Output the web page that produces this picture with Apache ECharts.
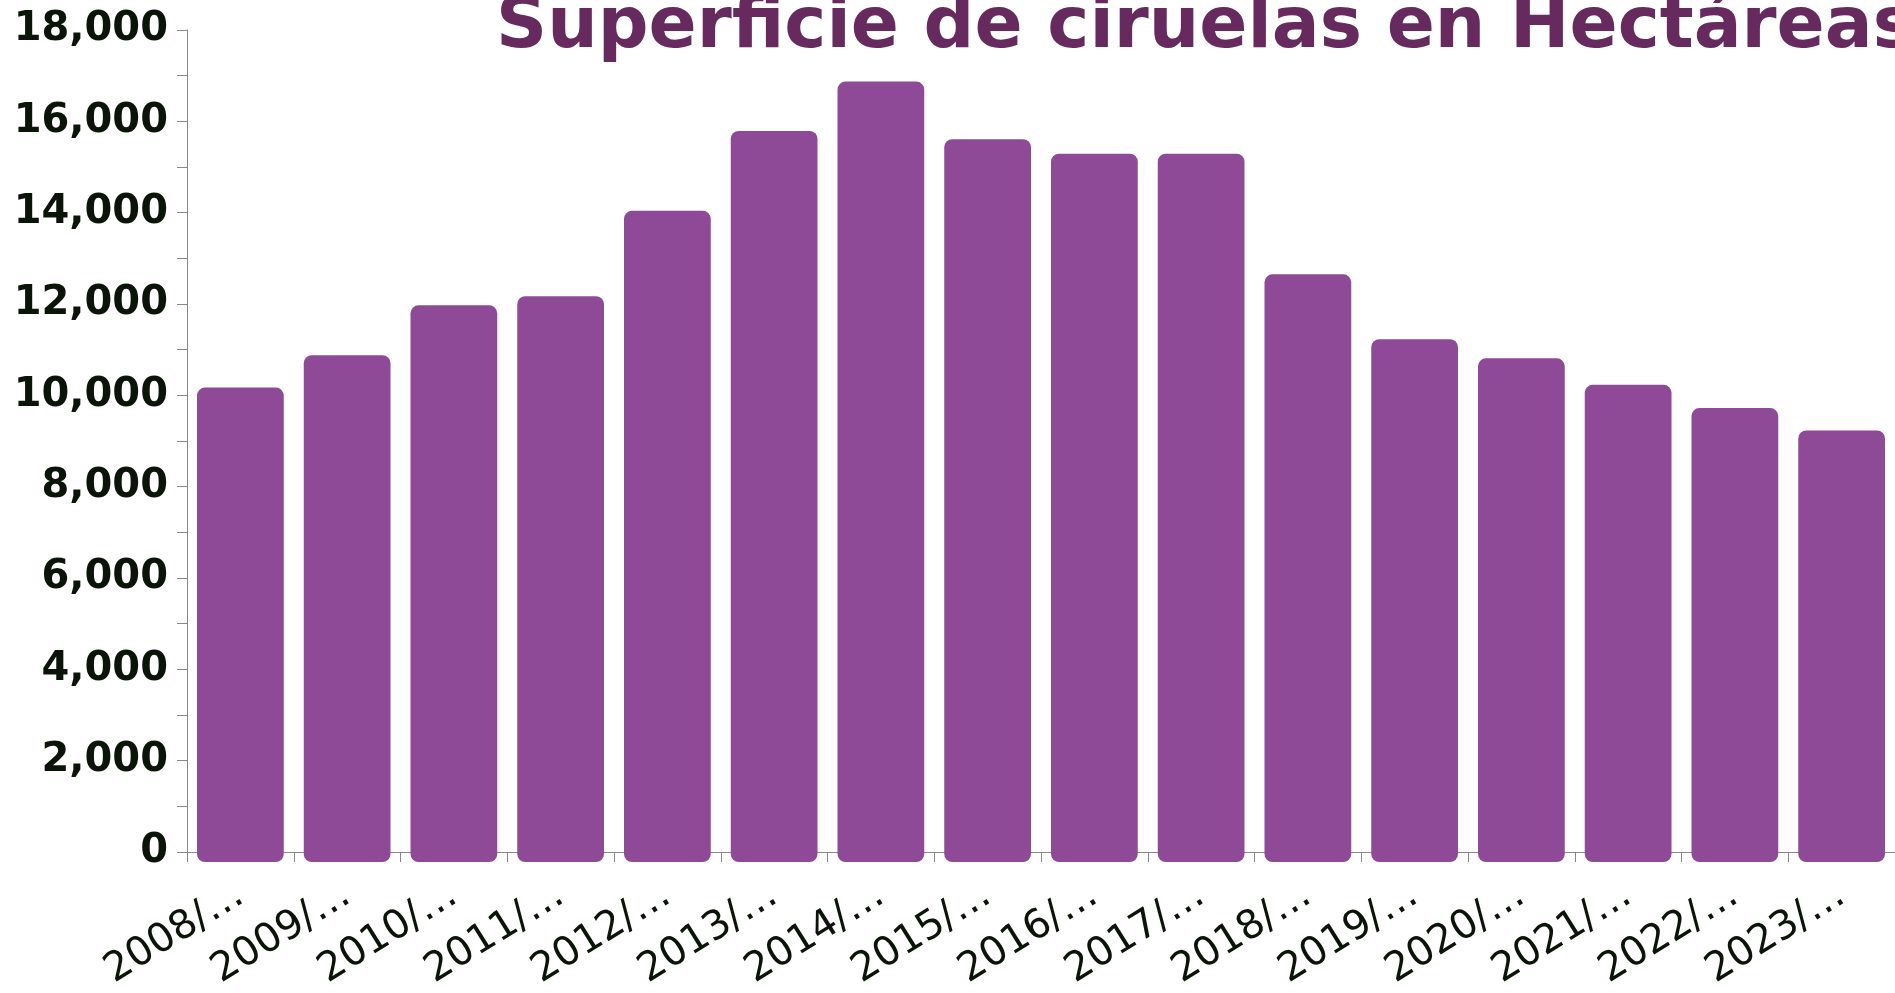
<!DOCTYPE html>
<html>
<head>
<meta charset="utf-8">
<title>Superficie de ciruelas en Hectáreas</title>
<script src="https://cdn.jsdelivr.net/npm/echarts@6/dist/echarts.min.js"></script>
<style>
  html, body { margin: 0; padding: 0; background: #fff; }
  #chart { width: 1895px; height: 993px; }
</style>
</head>
<body>
<div id="chart"></div>
<script>
// Campañas (eje X) y superficie en hectáreas (eje Y)
const seasons = [
  '2008/2009', '2009/2010', '2010/2011', '2011/2012', '2012/2013', '2013/2014',
  '2014/2015', '2015/2016', '2016/2017', '2017/2018', '2018/2019', '2019/2020',
  '2020/2021', '2021/2022', '2022/2023', '2023/2024'
];
const hectares = [
  10170, 10880, 11970, 12170, 14040, 15790, 16870, 15610,
  15290, 15290, 12650, 11230, 10810, 10230, 9720, 9230
];
const yTicks = { min: 0, max: 18000, interval: 2000 };

const colors = {
  bar: '#8E4A96',
  title: '#662A5F',
  label: '#0A1409',
  axis: '#888888'
};
const font = 'DejaVu Sans, sans-serif';

// barras con esquinas redondeadas que bajan un poco por debajo del eje
function renderBar(params, api) {
  const top = api.coord([api.value(0), api.value(1)]);
  const base = api.coord([api.value(0), 0]);
  const band = api.size([1, 0])[0];
  const w = band - 20;
  return {
    type: 'rect',
    shape: { x: top[0] - w / 2, y: top[1], width: w, height: base[1] - top[1] + 10, r: 8 },
    style: { fill: colors.bar }
  };
}

const chart = echarts.init(document.getElementById('chart'));
chart.setOption({
  animation: false,
  title: {
    text: 'Superficie de ciruelas en Hectáreas',
    left: 496,
    top: -7,
    padding: 0,
    textStyle: { color: colors.title, fontSize: 71, fontWeight: 'bold', fontFamily: font }
  },
  grid: { left: 187, top: 30, width: 1714, height: 822, containLabel: false },
  xAxis: {
    type: 'category',
    data: seasons,
    axisLine: { lineStyle: { color: colors.axis, width: 1 } },
    axisTick: { show: true, length: 10, lineStyle: { color: colors.axis } },
    axisLabel: {
      rotate: 32,
      margin: 40,
      interval: 0,
      color: colors.label,
      fontSize: 40,
      fontFamily: font,
      formatter: v => v.slice(0, 5) + '…'
    },
    z: 1
  },
  yAxis: {
    type: 'value',
    min: yTicks.min,
    max: yTicks.max,
    interval: yTicks.interval,
    axisLine: { show: true, lineStyle: { color: colors.axis, width: 1 } },
    axisTick: { show: true, length: 10, lineStyle: { color: colors.axis } },
    minorTick: { show: true, splitNumber: 2, length: 10, lineStyle: { color: colors.axis } },
    splitLine: { show: false },
    axisLabel: {
      margin: 19,
      color: colors.label,
      fontSize: 40,
      fontWeight: 'bold',
      fontFamily: font,
      formatter: v => v.toLocaleString('en-US')
    }
  },
  series: [{
    type: 'custom',
    renderItem: renderBar,
    encode: { x: 0, y: 1 },
    data: hectares.map((v, i) => [i, v]),
    z: 2
  }]
});
</script>
</body>
</html>
